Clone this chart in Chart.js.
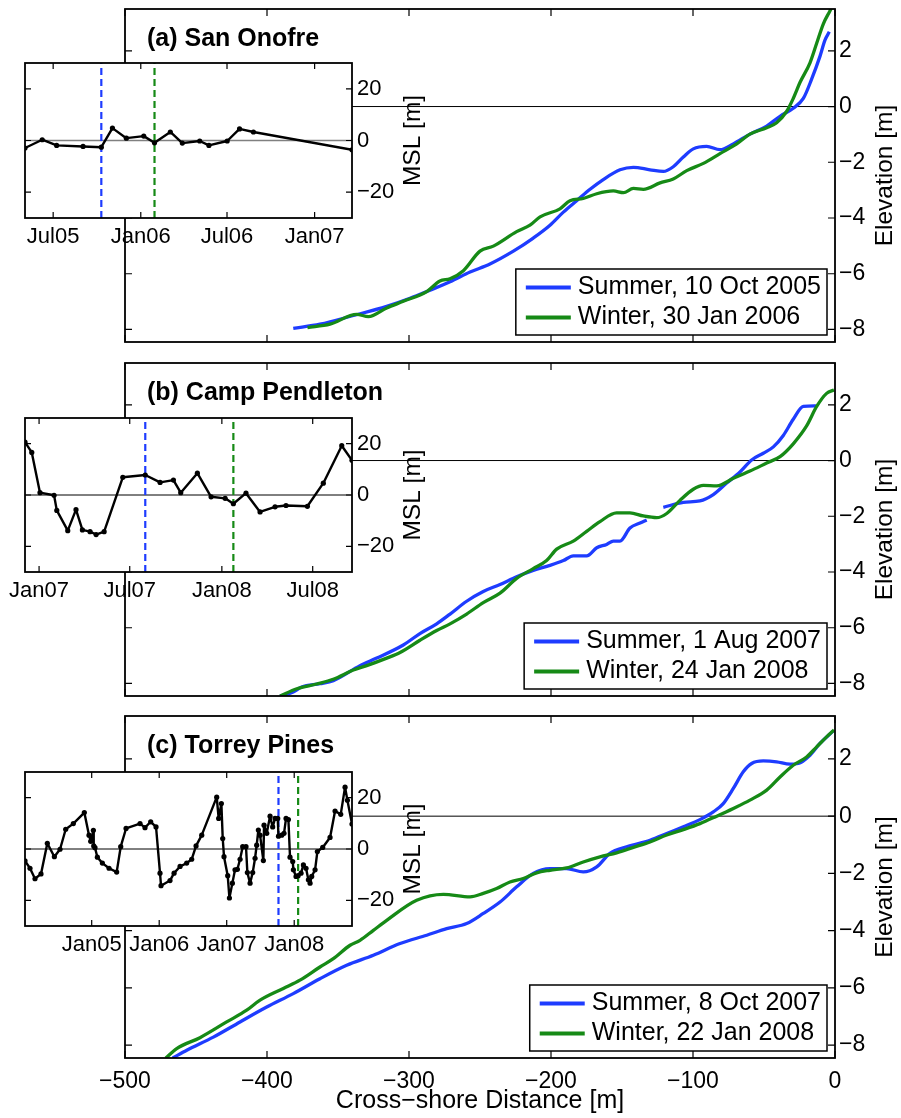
<!DOCTYPE html>
<html>
<head>
<meta charset="utf-8">
<title>Beach profiles and shoreline location</title>
<script src="https://cdn.jsdelivr.net/npm/chart.js@4/dist/chart.umd.min.js"></script>
<style>
  html, body { margin: 0; padding: 0; background: #fff; }
  #fig { position: relative; width: 901px; height: 1118px; overflow: hidden; background: #fff; }
  #fig canvas { position: absolute; }
</style>
</head>
<body>
<div id="fig"></div>
<script>
// ---------- axis ticks ----------
const distTicks = [-500, -400, -300, -200, -100, 0];
const elevTicks = [-8, -6, -4, -2, 0, 2];
const mslTicks = [-20, 0, 20];

// ---------- (a) San Onofre: cross-shore profiles (distance m, elevation m) ----------
const soSummerLabel = 'Summer, 10 Oct 2005';
const soWinterLabel = 'Winter, 30 Jan 2006';
const soSummerX = [-381.5, -362.7, -339.2, -315.7, -299.3, -285.2, -271.1, -257, -243, -226.5, -212.5, -200.7, -191.3, -181.9, -172.5, -163.2, -151.4, -142, -130.3, -120.9, -113.9, -106.8, -99.8, -90.4, -81, -71.6, -59.9, -48.1, -38.7, -29.4, -22.3, -16.4, -10.6, -7.0, -4.0];
const soSummerZ = [-7.96, -7.81, -7.50, -7.17, -6.88, -6.59, -6.29, -5.94, -5.65, -5.19, -4.72, -4.26, -3.79, -3.38, -2.97, -2.62, -2.27, -2.18, -2.27, -2.33, -2.16, -1.81, -1.52, -1.43, -1.55, -1.34, -0.99, -0.70, -0.35, -0.06, 0.29, 0.99, 1.80, 2.39, 2.68];
const soWinterX = [-371.5, -355.6, -336.8, -328.6, -315.7, -304, -287.5, -278.2, -271.1, -261.7, -250, -240.6, -224.2, -214.8, -207.7, -193.7, -186.6, -177.3, -167.8, -156.1, -149, -142, -135, -123.2, -113.9, -104.4, -92.7, -81, -69.2, -59.9, -48.1, -41.1, -34, -29.4, -24.6, -17.6, -12.9, -8.2, -3.5, -1];
const soWinterZ = [-7.93, -7.81, -7.46, -7.54, -7.23, -6.99, -6.64, -6.26, -6.18, -5.89, -5.19, -5.01, -4.49, -4.26, -3.96, -3.67, -3.38, -3.30, -3.13, -3.03, -3.09, -2.94, -2.97, -2.74, -2.60, -2.30, -2.04, -1.69, -1.34, -0.99, -0.76, -0.58, -0.17, 0.29, 0.87, 1.57, 2.27, 2.97, 3.44, 3.70];

// (a) shoreline location relative to mean (decimal year, MSL position m)
const soTime = [2005.334, 2005.433, 2005.516, 2005.668, 2005.773, 2005.837, 2005.917, 2006.017, 2006.079, 2006.170, 2006.239, 2006.339, 2006.392, 2006.497, 2006.568, 2006.648, 2007.215];
const soMsl = [-2.9, 0.3, -1.9, -2.3, -2.6, 4.8, 0.9, 1.7, -0.9, 3.3, -1.0, -0.2, -1.9, -0.2, 4.5, 3.3, -3.6];
const soTickPos = [2005.496, 2006.0, 2006.496, 2007.0];
const soTickLab = ['Jul05', 'Jan06', 'Jul06', 'Jan07'];
const soRange = [2005.334, 2007.215];
const soSurveys = [2005.773, 2006.079];

// ---------- (b) Camp Pendleton ----------
const cpSummerLabel = 'Summer, 1 Aug 2007';
const cpWinterLabel = 'Winter, 24 Jan 2008';
const cpSummerX = [-390.8, -381.5, -375.6, -362.7, -353.3, -334.5, -322.7, -304, -292.3, -280.5, -271.1, -259.4, -247.7, -235.9, -224.2, -212.5, -200.7, -191.3, -184.3, -174.9, -167.8, -160.8, -156.1, -151.4, -144.4, -137.3, -132.6, -127, -120.9, -106.8, -95.1, -85.7, -76.3, -66.9, -58.7, -50.5, -43.4, -36.4, -29.4, -22.3, -13.4];
const cpSummerZ = [-8.45, -8.31, -8.13, -8.01, -7.90, -7.36, -7.09, -6.62, -6.21, -5.86, -5.51, -5.05, -4.70, -4.45, -4.17, -3.94, -3.76, -3.59, -3.42, -3.42, -3.13, -3.01, -2.89, -2.89, -2.42, -2.24, -2.13, null, -1.68, -1.50, -1.45, -1.22, -0.81, -0.41, 0.02, 0.26, 0.49, 0.90, 1.48, 1.94, 1.96];
const cpWinterX = [-390.8, -379, -365, -353.3, -339.2, -329.8, -315.7, -306.3, -292.3, -280.5, -271.1, -259.4, -247.7, -235.9, -224.2, -212.5, -203.1, -196, -184.3, -174.9, -165.5, -153.8, -144.4, -135, -125.6, -118.5, -109.2, -99.8, -92.7, -83.3, -71.6, -59.9, -48.1, -38.7, -29.4, -20, -12.9, -5.9, -0.7];
const cpWinterZ = [-8.45, -8.19, -8.02, -7.85, -7.52, -7.36, -7.09, -6.89, -6.45, -6.10, -5.86, -5.51, -5.10, -4.76, -4.23, -3.88, -3.59, -3.18, -2.89, -2.54, -2.19, -1.88, -1.88, -1.99, -2.05, -1.90, -1.43, -1.03, -0.89, -0.91, -0.64, -0.38, -0.09, 0.14, 0.60, 1.24, 1.94, 2.41, 2.53];

const cpTime = [2006.923, 2006.960, 2007.005, 2007.082, 2007.097, 2007.157, 2007.202, 2007.237, 2007.279, 2007.312, 2007.356, 2007.458, 2007.581, 2007.662, 2007.735, 2007.775, 2007.866, 2007.941, 2008.018, 2008.063, 2008.132, 2008.209, 2008.291, 2008.351, 2008.468, 2008.555, 2008.656, 2008.712];
const cpMsl = [20.6, 16.6, 0.9, -0.1, -6.0, -13.9, -5.7, -13.6, -14.3, -15.4, -14.3, 6.9, 7.8, 4.9, 5.8, 0.9, 8.5, -0.7, -1.3, -3.4, 0.7, -6.6, -4.6, -4.1, -4.4, 4.6, 19.2, 13.5];
const cpTickPos = [2007.0, 2007.496, 2008.0, 2008.497];
const cpTickLab = ['Jan07', 'Jul07', 'Jan08', 'Jul08'];
const cpRange = [2006.923, 2008.712];
const cpSurveys = [2007.581, 2008.063];

// ---------- (c) Torrey Pines ----------
const tpSummerLabel = 'Summer, 8 Oct 2007';
const tpWinterLabel = 'Winter, 22 Jan 2008';
const tpSummerX = [-466.4, -456.5, -437.8, -419, -400.2, -381.5, -362.7, -343.9, -325.1, -306.3, -287.5, -273.5, -259.4, -247.7, -235.9, -224.2, -212.5, -200.7, -189, -177.3, -167.8, -158.5, -146.7, -130.3, -118.5, -106.8, -95.1, -85.7, -78.7, -71.6, -64.6, -58.7, -50.5, -41.1, -31.7, -25.8, -17.6, -10.6, -1.2];
const tpSummerZ = [-8.45, -8.18, -7.72, -7.19, -6.67, -6.20, -5.68, -5.21, -4.86, -4.45, -4.16, -3.93, -3.75, -3.40, -3.00, -2.47, -2.00, -1.83, -1.83, -1.95, -1.77, -1.30, -1.07, -0.84, -0.61, -0.37, -0.12, 0.15, 0.44, 0.97, 1.55, 1.84, 1.93, 1.90, 1.82, 1.84, 2.13, 2.54, 2.98];
const tpWinterX = [-471.3, -463.6, -447.2, -428.4, -414.3, -404.9, -388.5, -376.8, -362.7, -353.3, -341.5, -334.5, -325.1, -315.7, -294.6, -275.8, -257, -247.7, -238.3, -228.9, -219.5, -210.1, -200.7, -189, -177.3, -165.5, -153.8, -142, -130.3, -118.5, -106.8, -95.1, -83.3, -71.6, -59.9, -48.1, -38.7, -29.4, -20, -12.9, -5.9, -0.7];
const tpWinterZ = [-8.45, -8.12, -7.74, -7.19, -6.78, -6.43, -6.02, -5.73, -5.27, -4.98, -4.51, -4.34, -3.99, -3.64, -2.94, -2.73, -2.82, -2.70, -2.53, -2.30, -2.18, -1.98, -1.89, -1.81, -1.60, -1.42, -1.28, -1.09, -0.90, -0.66, -0.47, -0.26, 0.00, 0.27, 0.56, 0.91, 1.37, 1.78, 2.07, 2.42, 2.77, 3.01];

const tpTime = [2004.012, 2004.086, 2004.160, 2004.249, 2004.343, 2004.447, 2004.531, 2004.615, 2004.728, 2004.891, 2004.960, 2004.985, 2005.025, 2005.030, 2005.049, 2005.084, 2005.158, 2005.257, 2005.370, 2005.430, 2005.509, 2005.716, 2005.790, 2005.874, 2005.953, 2006.012, 2006.027, 2006.160, 2006.220, 2006.309, 2006.407, 2006.481, 2006.546, 2006.630, 2006.852, 2006.881, 2006.921, 2006.941, 2006.960, 2007.015, 2007.040, 2007.084, 2007.123, 2007.158, 2007.198, 2007.237, 2007.286, 2007.306, 2007.346, 2007.385, 2007.420, 2007.444, 2007.469, 2007.494, 2007.543, 2007.553, 2007.593, 2007.642, 2007.681, 2007.716, 2007.756, 2007.767, 2007.815, 2007.849, 2007.879, 2007.914, 2007.938, 2007.978, 2007.988, 2008.027, 2008.058, 2008.101, 2008.136, 2008.175, 2008.210, 2008.235, 2008.259, 2008.309, 2008.343, 2008.422, 2008.531, 2008.605, 2008.689, 2008.753, 2008.788, 2008.856];
const tpMsl = [-4.6, -7.5, -11.6, -9.7, 2.2, -3.0, -0.1, 7.7, 9.9, 14.2, 5.4, 3.0, 7.3, 1.2, 0.5, -3.2, -5.5, -7.5, -9.0, 0.9, 8.0, 9.9, 8.3, 10.6, 8.6, -9.4, -14.3, -12.3, -9.4, -6.8, -5.5, -4.0, 1.2, 5.4, 20.2, 11.9, 17.7, 4.1, -3.0, -10.4, -19.1, -13.3, -8.1, -7.9, -4.0, 0.9, 0.9, -9.2, -13.3, -9.2, -3.6, 1.5, 7.4, 5.4, -4.5, 9.3, 6.1, 12.8, 8.6, 11.9, 11.9, 5.0, 5.4, 6.1, 11.9, 11.5, -3.2, -4.9, -8.1, -10.7, -10.4, -9.4, -6.2, -7.5, -12.0, -13.3, -10.7, -8.1, -1.0, 0.6, 4.5, 14.8, 13.5, 24.1, 19.0, 9.7];
const tpTickPos = [2005.0, 2006.0, 2007.0, 2008.0];
const tpTickLab = ['Jan05', 'Jan06', 'Jan07', 'Jan08'];
const tpRange = [2004.012, 2008.856];
const tpSurveys = [2007.767, 2008.058];

// ---------- styling ----------
const FONT = "'Liberation Sans', Arial, Helvetica, sans-serif";
Chart.defaults.font.family = FONT;
Chart.defaults.color = '#000';
const BLUE = '#1e3cff';
const GREEN = '#168a16';

const pts = (xs, ys) => xs.map((x, i) => ({ x: x, y: ys[i] }));
const minus = v => String(v).replace('-', '\u2212');

function makeCanvas(left, top, w, h, z) {
  const c = document.createElement('canvas');
  c.width = w; c.height = h;
  c.style.left = left + 'px'; c.style.top = top + 'px';
  c.style.width = w + 'px'; c.style.height = h + 'px';
  c.style.zIndex = z;
  document.getElementById('fig').appendChild(c);
  return c;
}

// keep axis label overflow from shrinking the plot area
const noPad = s => { s.paddingTop = 0; s.paddingBottom = 0; s.paddingLeft = 0; s.paddingRight = 0; };

// Box around the plot area with inward ticks on all four sides
function makeFrame(cfg) {
  return {
    id: 'frame',
    beforeDraw(chart) {
      if (!cfg.fill) return;
      const ca = chart.chartArea, ctx = chart.ctx;
      ctx.save();
      ctx.fillStyle = '#fff';
      ctx.fillRect(ca.left, ca.top, ca.right - ca.left, ca.bottom - ca.top);
      ctx.restore();
    },
    afterDatasetsDraw(chart) {
      const ca = chart.chartArea, ctx = chart.ctx;
      const xs = chart.scales.x, ys = chart.scales.y;
      ctx.save();
      ctx.strokeStyle = '#000';
      ctx.lineWidth = 1.2;
      ctx.beginPath();
      cfg.xTicks.forEach(v => {
        const p = xs.getPixelForValue(v);
        ctx.moveTo(p, ca.bottom); ctx.lineTo(p, ca.bottom - cfg.len);
        ctx.moveTo(p, ca.top); ctx.lineTo(p, ca.top + cfg.len);
      });
      cfg.yTicks.forEach(v => {
        const p = ys.getPixelForValue(v);
        ctx.moveTo(ca.left, p); ctx.lineTo(ca.left + cfg.len, p);
        ctx.moveTo(ca.right, p); ctx.lineTo(ca.right - cfg.len, p);
      });
      ctx.stroke();
      ctx.lineWidth = cfg.lw;
      ctx.strokeRect(ca.left, ca.top, ca.right - ca.left, ca.bottom - ca.top);
      ctx.restore();
    }
  };
}

// Panel title, axis titles and boxed legend
function makeDecor(cfg) {
  return {
    id: 'decor',
    afterDraw(chart) {
      const ca = chart.chartArea, ctx = chart.ctx;
      ctx.save();
      ctx.fillStyle = '#000';
      if (cfg.title) {
        ctx.font = 'bold 25px ' + FONT;
        ctx.textBaseline = 'middle';
        ctx.textAlign = 'left';
        ctx.fillText(cfg.title, ca.left + 22, ca.top + 30);
      }
      if (cfg.yTitle) {
        ctx.save();
        ctx.font = cfg.yTitle.size + 'px ' + FONT;
        ctx.translate(cfg.yTitle.x, (ca.top + ca.bottom) / 2);
        ctx.rotate(-Math.PI / 2);
        ctx.textAlign = 'center';
        ctx.textBaseline = 'middle';
        ctx.fillText(cfg.yTitle.text, 0, 0);
        ctx.restore();
      }
      if (cfg.xTitle) {
        ctx.font = '25px ' + FONT;
        ctx.textAlign = 'center';
        ctx.textBaseline = 'middle';
        ctx.fillText(cfg.xTitle.text, (ca.left + ca.right) / 2, cfg.xTitle.y);
      }
      if (cfg.legend) {
        const items = chart.data.datasets.filter(d => d.label);
        ctx.font = '25px ' + FONT;
        const tw = Math.max(...items.map(d => ctx.measureText(d.label).width));
        const w = 62 + tw + 6, h = 66;
        const right = ca.right - 8, bottom = ca.bottom - 7;
        const left = right - w, top = bottom - h;
        ctx.fillStyle = '#fff';
        ctx.fillRect(left, top, w, h);
        ctx.strokeStyle = '#000';
        ctx.lineWidth = 1.5;
        ctx.strokeRect(left, top, w, h);
        items.forEach((d, i) => {
          const y = top + 18.5 + i * 30;
          ctx.strokeStyle = d.borderColor;
          ctx.lineWidth = 4;
          ctx.beginPath();
          ctx.moveTo(left + 10, y); ctx.lineTo(left + 55, y);
          ctx.stroke();
          ctx.fillStyle = '#000';
          ctx.textAlign = 'left';
          ctx.textBaseline = 'middle';
          ctx.fillText(d.label, left + 62, y);
        });
      }
      ctx.restore();
    }
  };
}

// Main panel: summer and winter cross-shore profiles
function profileChart(o) {
  const H = o.height;
  const aTop = o.areaTop - o.top, aBottom = o.areaBottom - o.top;
  const showX = !!o.xTitle;
  const canvas = makeCanvas(0, o.top, 901, H, 1);
  return new Chart(canvas, {
    type: 'line',
    data: {
      datasets: [
        { label: o.labels[0], data: pts(o.sx, o.sz), borderColor: BLUE, borderWidth: 3.3, pointRadius: 0,
          cubicInterpolationMode: 'monotone', spanGaps: false, order: 1 },
        { label: o.labels[1], data: pts(o.wx, o.wz), borderColor: GREEN, borderWidth: 3.3, pointRadius: 0,
          cubicInterpolationMode: 'monotone', order: 0 },
        { data: [{ x: -500, y: 0 }, { x: 0, y: 0 }], borderColor: '#000', borderWidth: 1, pointRadius: 0, order: 5 }
      ]
    },
    options: {
      responsive: false, animation: false, devicePixelRatio: 1,
      events: [],
      layout: { padding: { left: 125, top: aTop, right: 0, bottom: showX ? 0 : H - aBottom } },
      plugins: { legend: { display: false }, tooltip: { enabled: false } },
      scales: {
        x: {
          type: 'linear', min: -500, max: 0, display: showX,
          grid: { display: false, drawTicks: false }, border: { display: false },
          ticks: { font: { size: 23 }, padding: 10, maxRotation: 0, minRotation: 0, autoSkip: false, callback: minus },
          afterBuildTicks: s => { s.ticks = distTicks.map(v => ({ value: v })); },
          afterFit: s => { s.height = H - aBottom; noPad(s); }
        },
        y: {
          type: 'linear', position: 'right', min: -8.45, max: 3.5,
          grid: { display: false, drawTicks: false }, border: { display: false },
          ticks: { font: { size: 23 }, padding: 4, callback: minus },
          afterBuildTicks: s => { s.ticks = elevTicks.map(v => ({ value: v })); },
          afterFit: s => { s.width = 66; noPad(s); }
        }
      }
    },
    plugins: [
      makeFrame({ xTicks: distTicks, yTicks: elevTicks, len: 7, lw: 1.8, fill: false }),
      makeDecor({ title: o.title, yTitle: { x: 885, text: 'Elevation [m]', size: 24.5 },
                  xTitle: showX ? { text: o.xTitle, y: o.xTitleY - o.top } : null, legend: true })
    ]
  });
}

// Inset: shoreline (MSL contour) position through time
function mslChart(o) {
  const H = 222;
  const aTop = o.areaTop - o.top, aBottom = o.areaBottom - o.top;
  const canvas = makeCanvas(0, o.top, 450, H, 2);
  const vline = (x, c) => ({ data: [{ x: x, y: -30 }, { x: x, y: 30 }], borderColor: c, borderWidth: 2.2,
                             borderDash: [7, 4], pointRadius: 0, order: 1 });
  return new Chart(canvas, {
    type: 'line',
    data: {
      datasets: [
        { data: pts(o.t, o.msl), borderColor: '#000', borderWidth: 2.4, tension: 0, borderJoinStyle: 'round',
          pointRadius: 2.6, pointBackgroundColor: '#000', pointBorderWidth: 0, order: 0 },
        vline(o.surveys[0], BLUE),
        vline(o.surveys[1], GREEN),
        { data: [{ x: o.range[0], y: 0 }, { x: o.range[1], y: 0 }], borderColor: o.zeroColor,
          borderWidth: o.zeroWidth, pointRadius: 0, order: 3 }
      ]
    },
    options: {
      responsive: false, animation: false, devicePixelRatio: 1,
      events: [],
      layout: { padding: { left: 25, top: aTop, right: 0, bottom: 0 } },
      plugins: { legend: { display: false }, tooltip: { enabled: false } },
      scales: {
        x: {
          type: 'linear', min: o.range[0], max: o.range[1],
          grid: { display: false, drawTicks: false }, border: { display: false },
          ticks: { font: { size: 22 }, padding: 6, maxRotation: 0, minRotation: 0, autoSkip: false,
                   callback: (v, i) => o.tickLab[i] },
          afterBuildTicks: s => { s.ticks = o.tickPos.map(v => ({ value: v })); },
          afterFit: s => { s.height = H - aBottom; noPad(s); }
        },
        y: {
          type: 'linear', position: 'right', min: -30, max: 30,
          grid: { display: false, drawTicks: false }, border: { display: false },
          ticks: { font: { size: 22 }, padding: 5, callback: minus },
          afterBuildTicks: s => { s.ticks = mslTicks.map(v => ({ value: v })); },
          afterFit: s => { s.width = 98; noPad(s); }
        }
      }
    },
    plugins: [
      makeFrame({ xTicks: o.tickPos, yTicks: mslTicks, len: 6, lw: 1.8, fill: true }),
      makeDecor({ yTitle: { x: 413, text: 'MSL [m]', size: 24.5 } })
    ]
  });
}

profileChart({ top: 0, height: 356, areaTop: 9, areaBottom: 349, title: '(a) San Onofre',
  labels: [soSummerLabel, soWinterLabel], sx: soSummerX, sz: soSummerZ, wx: soWinterX, wz: soWinterZ });
profileChart({ top: 356, height: 356, areaTop: 363, areaBottom: 704, title: '(b) Camp Pendleton',
  labels: [cpSummerLabel, cpWinterLabel], sx: cpSummerX, sz: cpSummerZ, wx: cpWinterX, wz: cpWinterZ });
profileChart({ top: 712, height: 406, areaTop: 716, areaBottom: 1058, title: '(c) Torrey Pines',
  labels: [tpSummerLabel, tpWinterLabel], sx: tpSummerX, sz: tpSummerZ, wx: tpWinterX, wz: tpWinterZ,
  xTitle: 'Cross\u2212shore Distance [m]', xTitleY: 1101 });

mslChart({ top: 40, areaTop: 63, areaBottom: 218, t: soTime, msl: soMsl, tickPos: soTickPos, tickLab: soTickLab,
  range: soRange, surveys: soSurveys, zeroColor: '#808080', zeroWidth: 1.6 });
mslChart({ top: 395, areaTop: 418, areaBottom: 572, t: cpTime, msl: cpMsl, tickPos: cpTickPos, tickLab: cpTickLab,
  range: cpRange, surveys: cpSurveys, zeroColor: '#000', zeroWidth: 1 });
mslChart({ top: 749, areaTop: 772, areaBottom: 926, t: tpTime, msl: tpMsl, tickPos: tpTickPos, tickLab: tpTickLab,
  range: tpRange, surveys: tpSurveys, zeroColor: '#000', zeroWidth: 1 });
</script>
</body>
</html>
